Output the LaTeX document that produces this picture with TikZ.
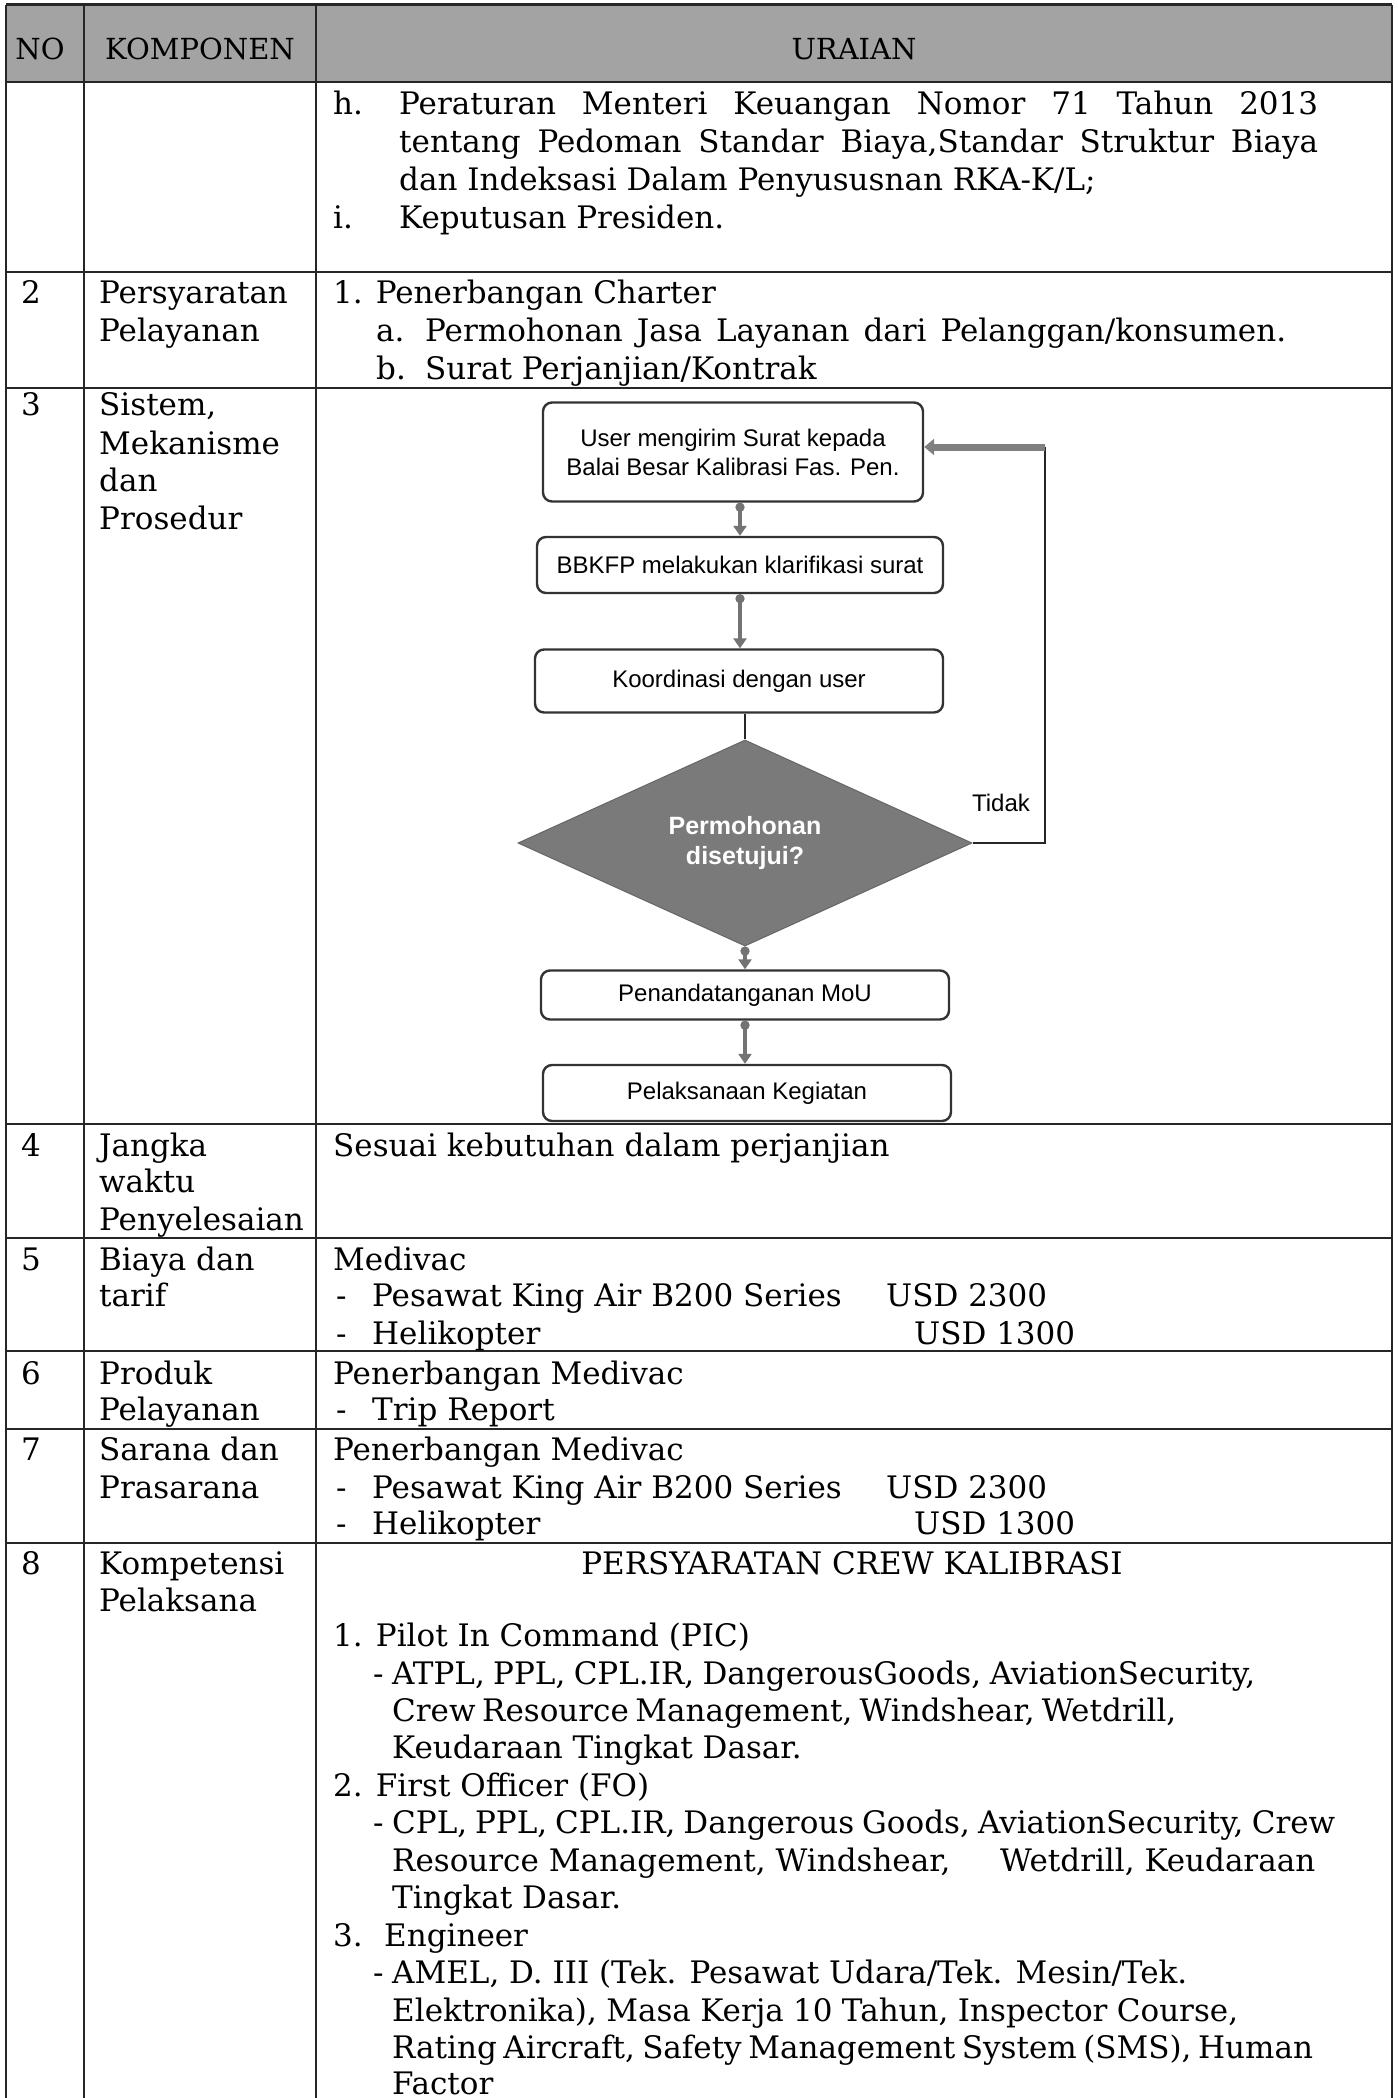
\documentclass[tikz,border=0pt]{standalone}
\usepackage{fontspec}
\setmainfont{DejaVu Serif}
\newfontfamily\fcfont{Liberation Sans}
\usetikzlibrary{shapes.geometric,arrows.meta,calc}
\newcommand\bk{\fontsize{31}{37}\selectfont}
\newcommand\bkh{\fontsize{29}{34}\selectfont}
\newcommand\fc{\fcfont\fontsize{24}{29}\selectfont}
\newcommand\fcb{\fcfont\bfseries\fontsize{25}{30}\selectfont}
\newcommand\js[2]{\makebox[#1pt][s]{#2}}
\tikzset{
  tx/.style={anchor=base west, inner sep=0pt, font=\bk},
  hd/.style={anchor=base, inner sep=0pt, font=\bkh},
  rule/.style={line width=2.2pt, black!85},
  fbox/.style={draw=black!80, line width=2.4pt, rounded corners=9pt, fill=white, font=\fc, align=center, inner sep=0pt},
  arr/.style={draw=black!55, line width=4.5pt, {Circle[length=9pt]}-{Triangle[length=10pt,width=13pt]}},
  plain/.style={draw=black!85, line width=2.2pt},
  looparr/.style={draw=black!50, line width=7pt, -{Triangle[length=10pt,width=16pt]}},
}
\begin{document}
\begin{tikzpicture}[x=1pt,y=-1pt]
\useasboundingbox (0,0) rectangle (1397,2098);
\fill[white] (0,0) rectangle (1397,2098);
% header band
\fill[black!36] (6,5) rectangle (1392,82);
% horizontal rules
\draw[rule, line width=3pt] (6,5) -- (1392,5);
\foreach \yy in {82,272,388,1124,1238,1351,1429,1543}
  \draw[rule] (6,\yy) -- (1392,\yy);
% vertical rules
\foreach \xx in {6,84,316,1392}
  \draw[rule, line width=1.8pt] (\xx,5) -- (\xx,2098);
% header
\node[hd] (hno) at (40,60) {NO};
\node[hd] (hkomp) at (200,60) {KOMPONEN};
\node[hd] (hur) at (854,60) {URAIAN};
% row 1
\node[tx] (h1) at (333,115) {h.};
\node[tx] (h2) at (399,115) {\js{919}{Peraturan Menteri Keuangan Nomor 71 Tahun 2013}};
\node[tx] (h3) at (399,153) {\js{919}{tentang Pedoman Standar Biaya,Standar Struktur Biaya}};
\node[tx] (h4) at (399,190) {dan Indeksasi Dalam Penyususnan RKA-K/L;};
\node[tx] (i1) at (333,228) {i.};
\node[tx] (i2) at (399,228) {Keputusan Presiden.};
% row 2
\node[tx] (n2) at (21,303) {2};
\node[tx] (k2a) at (99,303) {Persyaratan};
\node[tx] (k2b) at (99,341) {Pelayanan};
\node[tx] (u2a) at (333,303) {1. Penerbangan Charter};
\node[tx] (u2b) at (376,341) {a.};
\node[tx] (u2c) at (425,341) {\js{861}{Permohonan Jasa Layanan dari Pelanggan/konsumen.}};
\node[tx] (u2d) at (376,379) {b.};
\node[tx] (u2e) at (425,379) {Surat Perjanjian/Kontrak};
% row 3
\node[tx] (n3) at (21,415) {3};
\node[tx] (k3a) at (99,415) {Sistem,};
\node[tx] (k3b) at (99,454) {Mekanisme};
\node[tx] (k3c) at (99,491) {dan};
\node[tx] (k3d) at (99,529) {Prosedur};
% flowchart
\node[fbox, minimum width=380pt, minimum height=99pt] (b1) at (733,452) {User mengirim Surat kepada\\Balai Besar Kalibrasi Fas. Pen.};
\node[fbox, minimum width=406pt, minimum height=56pt] (b2) at (740,565) {BBKFP melakukan klarifikasi surat};
\node[fbox, minimum width=408pt, minimum height=63pt] (b3) at (739,681) {Koordinasi dengan user};
\node[diamond, fill=black!52, draw=black!60, line width=1pt, minimum width=454pt, minimum height=160pt, inner sep=0pt, font=\fcb, text=white, align=center] (d) at (745,843) {Permohonan\\disetujui?};
\node[fbox, minimum width=408pt, minimum height=49pt] (b4) at (745,995) {Penandatanganan MoU};
\node[fbox, minimum width=408pt, minimum height=56pt] (b5) at (747,1093) {Pelaksanaan Kegiatan};
\node[font=\fc, inner sep=0pt] (td) at (1001,803) {Tidak};
\coordinate (lp) at (1045,447);
\draw[arr] (b1.south -| b2.north) -- (b2.north);
\draw[arr] (b2.south) -- (b3.north -| b2.south);
\draw[plain] (b3.south -| d.north) -- (d.north);
\draw[arr] (d.south) -- (b4.north -| d.south);
\draw[arr] (b4.south) -- (b5.north -| b4.south);
\draw[plain] (d.east) -| (lp);
\draw[looparr] (lp) -- (lp -| b1.east);
% row 4
\node[tx] (n4) at (21,1156) {4};
\node[tx] (k4a) at (99,1156) {Jangka};
\node[tx] (k4b) at (99,1192) {waktu};
\node[tx] (k4c) at (99,1230) {Penyelesaian};
\node[tx] (u4) at (333,1156) {Sesuai kebutuhan dalam perjanjian};
% row 5
\node[tx] (n5) at (21,1270) {5};
\node[tx] (k5a) at (99,1270) {Biaya dan};
\node[tx] (k5b) at (99,1306) {tarif};
\node[tx] (u5a) at (333,1270) {Medivac};
\node[tx] (u5b) at (336,1306) {-};
\node[tx] (u5c) at (372,1306) {Pesawat King Air B200 Series};
\node[tx] (u5d) at (886,1306) {USD 2300};
\node[tx] (u5e) at (336,1344) {-};
\node[tx] (u5f) at (372,1344) {Helikopter};
\node[tx] (u5g) at (914,1344) {USD 1300};
% row 6
\node[tx] (n6) at (21,1384) {6};
\node[tx] (k6a) at (99,1384) {Produk};
\node[tx] (k6b) at (99,1420) {Pelayanan};
\node[tx] (u6a) at (333,1384) {Penerbangan Medivac};
\node[tx] (u6b) at (336,1420) {-};
\node[tx] (u6c) at (372,1420) {Trip Report};
% row 7
\node[tx] (n7) at (21,1460) {7};
\node[tx] (k7a) at (99,1460) {Sarana dan};
\node[tx] (k7b) at (99,1498) {Prasarana};
\node[tx] (u7a) at (333,1460) {Penerbangan Medivac};
\node[tx] (u7b) at (336,1498) {-};
\node[tx] (u7c) at (372,1498) {Pesawat King Air B200 Series};
\node[tx] (u7d) at (886,1498) {USD 2300};
\node[tx] (u7e) at (336,1534) {-};
\node[tx] (u7f) at (372,1534) {Helikopter};
\node[tx] (u7g) at (914,1534) {USD 1300};
% row 8
\node[tx] (n8) at (21,1574) {8};
\node[tx] (k8a) at (99,1574) {Kompetensi};
\node[tx] (k8b) at (99,1611) {Pelaksana};
\node[tx, anchor=base] (u8t) at (852,1574) {PERSYARATAN CREW KALIBRASI};
\node[tx] (p1) at (333,1646) {1. Pilot In Command (PIC)};
\node[tx] (p1d) at (373,1684) {-};
\node[tx] (p1a) at (392,1684) {\js{863}{ATPL, PPL, CPL.IR, DangerousGoods, AviationSecurity,}};
\node[tx] (p1b) at (392,1721) {\js{780}{Crew Resource Management, Windshear, Wetdrill,}};
\node[tx] (p1c) at (392,1758) {Keudaraan Tingkat Dasar.};
\node[tx] (p2) at (333,1796) {2. First Officer (FO)};
\node[tx] (p2d) at (373,1833) {-};
\node[tx] (p2a) at (392,1833) {\js{943}{CPL, PPL, CPL.IR, Dangerous Goods, AviationSecurity, Crew}};
\node[tx] (p2b) at (392,1871) {\makebox[923pt][l]{Resource Management, Windshear,\hfill Wetdrill, Keudaraan}};
\node[tx] (p2c) at (392,1908) {Tingkat Dasar.};
\node[tx] (p3) at (333,1946) {3.};
\node[tx] (p3n) at (384,1946) {Engineer};
\node[tx] (p3d) at (373,1983) {-};
\node[tx] (p3a) at (392,1983) {\js{795}{AMEL, D. III (Tek. Pesawat Udara/Tek. Mesin/Tek.}};
\node[tx] (p3b) at (392,2021) {\js{846}{Elektronika), Masa Kerja 10 Tahun, Inspector Course,}};
\node[tx] (p3c) at (392,2058) {\js{919}{Rating Aircraft, Safety Management System (SMS), Human}};
\node[tx] (p3e) at (392,2094) {Factor};
\end{tikzpicture}
\end{document}
